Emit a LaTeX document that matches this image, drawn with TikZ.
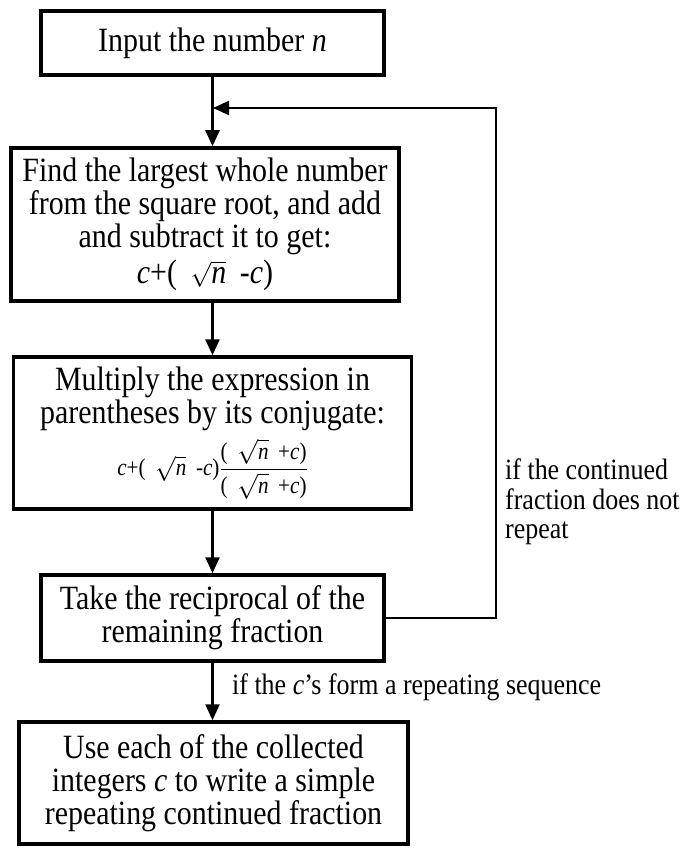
\documentclass[tikz,border=0pt]{standalone}
\usepackage{amsmath}
\usepackage{fontspec}
\setmainfont{Liberation Serif}[FakeStretch=0.88]
\usetikzlibrary{arrows.meta}
\newcommand{\itv}[1]{\hbox{\itshape #1}}
\newcommand{\gap}{\hspace{0.4em}}
\begin{document}
\begin{tikzpicture}[x=1pt,y=-1pt,
        stepbox/.style={draw,line width=3.5pt,align=flush center,inner sep=4pt,font=\fontsize{34}{33}\selectfont},
        flow/.style={line width=2.5pt,-{Triangle[length=16pt,width=14pt]}},
        back/.style={line width=2pt,-{Triangle[length=16pt,width=14pt]}},
        note/.style={font=\fontsize{29.5}{29.5}\selectfont,inner sep=0pt,align=flush left}]
        %--- Canvas ---
        \useasboundingbox (0,0) rectangle (685,850);
        %--- Boxes ---
        \node [stepbox,minimum width=343pt,minimum height=64pt] (input) at (212.5,43) {Input the number \textit{n}};
        \node [stepbox,minimum width=386pt,minimum height=153pt,text width=380pt] (find) at (205,224.5)
            {Find the largest whole number\\from the square root, and add\\and subtract it to get:\\[3pt]
             \textit{c}+(\gap$\sqrt{\itv{n}}$\gap-\textit{c})};
        \node [stepbox,minimum width=397pt,minimum height=152pt,text width=390pt] (conj) at (212.5,433)
            {Multiply the expression in\\parentheses by its conjugate:\\[7pt]
             {\fontsize{24}{24}\selectfont$\itv{c}\hbox{+(\gap}\sqrt{\itv{n}}\hbox{\gap-}\itv{c}\hbox{)}
             \dfrac{\hbox{(\gap}\sqrt{\itv{n}}\hbox{\gap+}\itv{c}\hbox{)}}{\hbox{(\gap}\sqrt{\itv{n}}\hbox{\gap+}\itv{c}\hbox{)}}$}};
        \node [stepbox,minimum width=343pt,minimum height=86pt] (recip) at (212.5,618)
            {Take the reciprocal of the\\remaining fraction};
        \node [stepbox,minimum width=389pt,minimum height=122pt] (write) at (213.5,783)
            {Use each of the collected\\integers \textit{c} to write a simple\\repeating continued fraction};
        %--- Connectors ---
        \coordinate (join) at (213,108);
        \coordinate (loop) at (496,108);
        \draw [flow] (input.south) -- (input.south |- find.north);
        \draw [flow] (input.south |- find.south) -- (input.south |- conj.north);
        \draw [flow] (conj.south) -- (conj.south |- recip.north);
        \draw [flow] (recip.south) -- (recip.south |- write.north);
        % loop back
        \draw [back] (recip.east) -| (loop) -- (join);
        %--- Labels ---
        \node [note,anchor=north west] (noloop) at (505,459) {if the continued\\fraction does not\\repeat};
        \node [note,anchor=west] (repeat) at (232,687) {if the \textit{c}'s form a repeating sequence};
    \end{tikzpicture}
\end{document}
